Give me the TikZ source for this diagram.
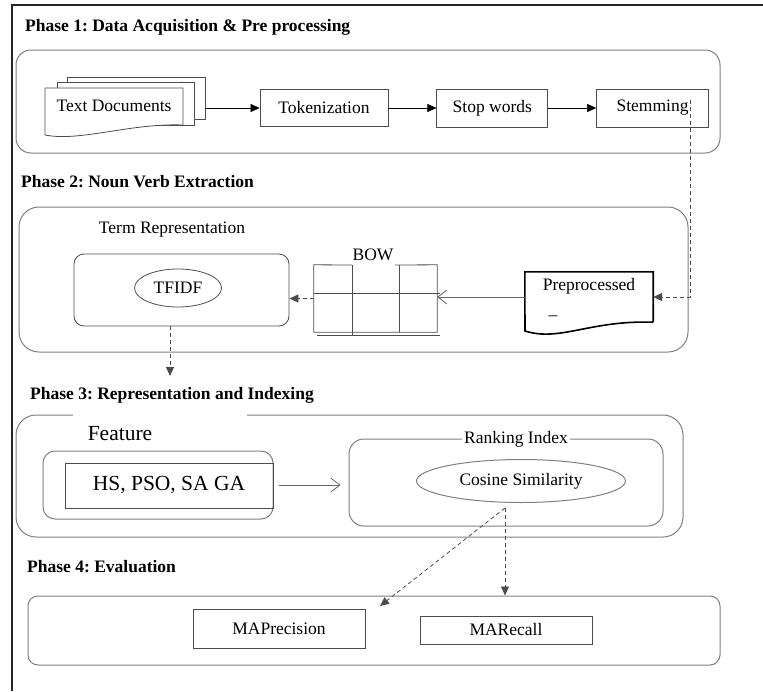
\documentclass[tikz,border=0pt]{standalone}
\usepackage{fontspec}
\setmainfont{Liberation Serif}
\frenchspacing
\usetikzlibrary{positioning,arrows.meta,shapes.geometric,chains,scopes}
\tikzset{
	>={Triangle[length=9pt,width=8pt]},
	every node/.style={font=\fontsize{17.5}{20}\selectfont},
	phase/.style={draw=black!50, line width=1pt, rounded corners=#1},
	proc/.style={draw=black!70, line width=0.8pt, inner sep=0pt},
	heading/.style={anchor=west, inner sep=0pt, font=\fontsize{17.5}{20}\selectfont\bfseries},
	dashlink/.style={dash pattern=on 4pt off 3pt, draw=black!70, line width=0.8pt},
	openlink/.style={-{Straight Barb[length=9pt,width=14pt]}, draw=black!60, line width=0.8pt},
	bigtext/.style={font=\fontsize{21.5}{24}\selectfont},
}

\begin{document}
\begin{tikzpicture}[x=1pt, y=-1pt, node distance=48pt]
        \useasboundingbox (0,0) rectangle (763,691);
        \draw[line width=1.5pt, black!85] (12,691) -- (12,5) -- (763,5);

        % Phase 1
        \node[heading] (ph1) at (25,27) {Phase 1: Data Acquisition \& Pre processing};
        \draw[phase=15pt] (16,50) rectangle (720,153);
        \draw[proc, fill=white] (67,77) rectangle (205,119);
        \draw[proc, fill=white] (57,82) rectangle (194,125);
        \draw[proc, fill=white] (45,88) -- (183,88) -- (183,125) .. controls (130,123) and (80,142) .. (45,135) -- cycle;
        \node (docs) at (114,106) {Text Documents};
        \coordinate (docsout) at (205,108);

        { [start chain=1]
        \node[proc, minimum width=128pt, minimum height=37pt] [on chain] (tok) at (324,108) {Tokenization};
        \node[proc, minimum width=111pt, minimum height=38pt] [on chain] (stop) {Stop words};
        \node[proc, minimum width=112pt, minimum height=38pt] [on chain] (stem) {Stemming};
        }
        \draw[->] (docsout) -- (tok);
        \draw[->] (tok) -- (stop);
        \draw[->] (stop) -- (stem);

        % Phase 2
        \node[heading] (ph2) at (21,182) {Phase 2: Noun Verb Extraction};
        \draw[phase=20pt] (19,207) rectangle (688,352);
        \node (termlbl) at (172,230) {Term Representation};
        \node[draw=black!70, line width=0.8pt, rounded corners=10pt, minimum width=215pt, minimum height=72pt] (termbox) at (181.5,290) {};
        \node[proc, ellipse, minimum width=87pt, minimum height=38pt] (tfidf) at (178,288) {TFIDF};

        \node[minimum width=123pt, minimum height=67pt, inner sep=0pt] (bow) at (375.5,298.5) {};
        \node (bowlbl) at (373,255) {BOW};
        \begin{scope}[black!70, line width=0.8pt]
            \draw (352,265) -- (bow.north west) -- (bow.south west) -- (bow.south east) -- (bow.north east) -- (395,265);
            \draw (352,265) -- (352,335);
            \draw (399,265) -- (399,332);
            \draw (314,293) -- (440,293);
            \draw (317,335) -- (440,335);
        \end{scope}

        \node[minimum width=128pt, minimum height=50pt, inner sep=0pt] (pre) at (589,297) {};
        \draw[line width=1.6pt] (pre.south east) -- (pre.north east) -- (pre.north west) -- (525,331) .. controls (560,342) and (590,320) .. (pre.south east);
        \node (prelbl) at (589,286) {Preprocessed};
        \node[anchor=base] (premark) at (553,314) {\textunderscore};

        \coordinate (stemdrop) at (690,100);
        \draw[dashlink, ->] (stemdrop) |- (pre.east);
        \draw[openlink] (pre.west) -- (pre.west -| bow.east);
        \draw[dashlink, ->] (bow.west) -- (bow.west -| termbox.east);
        \coordinate (tfdown) at (170,376);
        \draw[dashlink, ->] (tfdown |- termbox.south) -- (tfdown);

        % Phase 3
        \node[heading] (ph3) at (30,395) {Phase 3: Representation and Indexing};
        \draw[phase=20pt] (16,415) rectangle (683,537);
        \fill[white] (73,412) rectangle (247,418);
        \node[bigtext] (featlbl) at (120,434) {Feature};
        \node[draw=black!50, line width=1pt, rounded corners=12pt, minimum width=230pt, minimum height=68pt] (feat) at (158,485) {};
        \node[proc, bigtext, minimum width=208pt, minimum height=45pt] (hs) at (169,485.5) {HS, PSO, SA GA};
        \node[draw=black!50, line width=1pt, rounded corners=15pt, minimum width=314pt, minimum height=87pt] (rank) at (506,482.5) {};
        \node[fill=white, inner sep=2pt] (ranklbl) at (516,439) {Ranking Index};
        \node[ellipse, draw=black!50, line width=1pt, minimum width=209pt, minimum height=43pt] (cos) at (521,481) {Cosine Similarity};
        \draw[openlink, shorten <=5pt, shorten >=8pt] (feat.east) -- (feat.east -| rank.west);

        % Phase 4
        \node[heading] (ph4) at (27,567) {Phase 4: Evaluation};
        \node[draw=black!50, line width=1pt, rounded corners=10pt, minimum width=692pt, minimum height=69pt] (eval) at (374,630.5) {};
        \node[proc, minimum width=172pt, minimum height=39pt] (prec) at (279,628.5) {MAPrecision};
        \node[proc, minimum width=172pt, minimum height=28pt] (rec) at (506,630) {MARecall};
        \coordinate (cosdrop) at (505,508);
        \coordinate (prectip) at (380,606);
        \draw[dashlink, ->] (cosdrop) -- (cosdrop |- eval.north);
        \draw[dashlink, ->] (cosdrop) -- (prectip);
    \end{tikzpicture}
\end{document}
